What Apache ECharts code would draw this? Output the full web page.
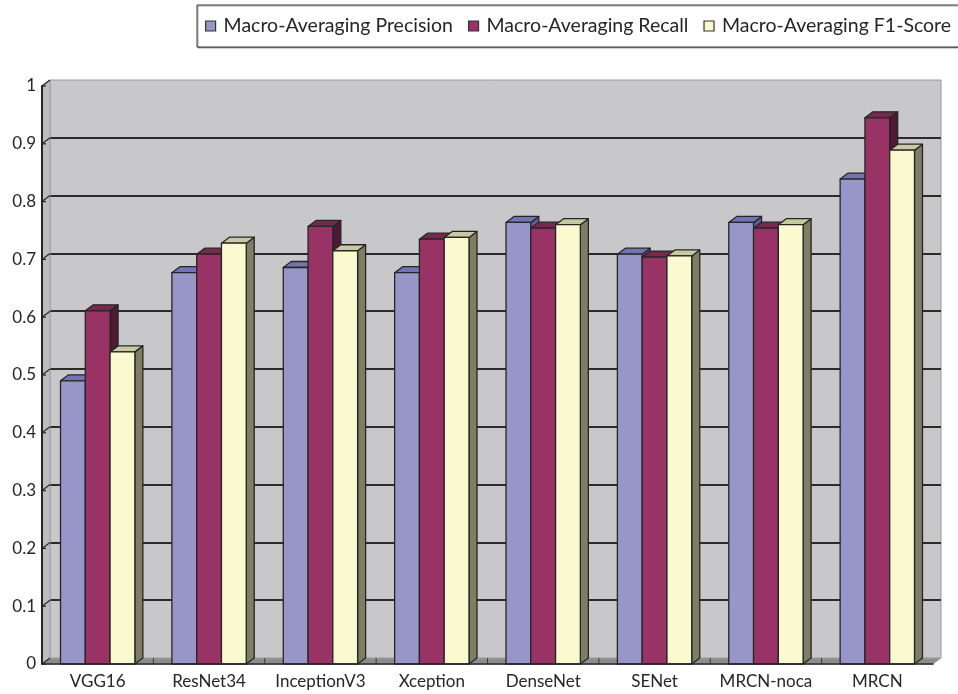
<!DOCTYPE html>
<html>
<head>
<meta charset="utf-8">
<script src="https://cdn.jsdelivr.net/npm/echarts@6/dist/echarts.min.js"></script>
<style>
  html, body { margin: 0; padding: 0; background: #ffffff; }
  #chart { width: 958px; height: 694px; }
</style>
</head>
<body>
<div id="chart"></div>
<script>
// Model names along the x axis
const categories = ['VGG16', 'ResNet34', 'InceptionV3', 'Xception', 'DenseNet', 'SENet', 'MRCN-noca', 'MRCN'];
// Macro-averaged scores per model
const precision = [0.490, 0.677, 0.686, 0.677, 0.764, 0.709, 0.764, 0.839];
const recall    = [0.611, 0.709, 0.757, 0.735, 0.754, 0.704, 0.754, 0.945];
const f1score   = [0.540, 0.728, 0.715, 0.738, 0.760, 0.706, 0.760, 0.889];
// Value axis ticks
const yTicks = [0, 0.1, 0.2, 0.3, 0.4, 0.5, 0.6, 0.7, 0.8, 0.9, 1];
const seriesNames = ['Macro-Averaging Precision', 'Macro-Averaging Recall', 'Macro-Averaging F1-Score'];

// depth of the 3D box (pixels to the right / upward)
const DX = 8, DY = 6;
const FONT = 'Lato, "Open Sans", sans-serif';

const palette = [
  { front: '#9696c9', top: '#7474b4', side: '#5d5d9a' },
  { front: '#993366', top: '#76284f', side: '#4e1933' },
  { front: '#fbf9d0', top: '#c9c8a0', side: '#7e7e64' }
];

function barRenderer(k) {
  const c = palette[k];
  return function (params, api) {
    const i = api.value(0), v = api.value(1);
    const top = api.coord([i, v]);
    const base = api.coord([i, 0]);
    const band = api.size([1, 0])[0];
    const bw = band * 0.2225;
    const x0 = top[0] - 1.5 * bw + k * bw;
    const x1 = x0 + bw;
    const yt = top[1], yb = base[1];
    const stroke = { stroke: '#262626', lineWidth: 1.3, lineJoin: 'round' };
    return {
      type: 'group',
      children: [
        { type: 'polygon', shape: { points: [[x1, yt], [x1 + DX, yt - DY], [x1 + DX, yb - DY], [x1, yb]] },
          style: Object.assign({ fill: c.side }, stroke) },
        { type: 'polygon', shape: { points: [[x0, yt], [x1, yt], [x1 + DX, yt - DY], [x0 + DX, yt - DY]] },
          style: Object.assign({ fill: c.top }, stroke) },
        { type: 'rect', shape: { x: x0, y: yt, width: bw, height: yb - yt },
          style: Object.assign({ fill: c.front }, stroke) }
      ]
    };
  };
}

const chart = echarts.init(document.getElementById('chart'), null, { renderer: 'canvas' });

const option = {
  backgroundColor: '#ffffff',
  animation: false,
  legend: {
    left: 197,
    top: 5,
    width: 1000,
    padding: [11, 40, 11, 8],
    itemWidth: 10,
    itemHeight: 10,
    itemGap: 15,
    borderColor: '#333333',
    borderWidth: 1,
    backgroundColor: '#ffffff',
    shadowColor: 'rgba(0,0,0,0.35)',
    shadowOffsetX: 1,
    shadowOffsetY: 1,
    icon: 'rect',
    textStyle: { fontFamily: FONT, fontSize: 19.5, color: '#262626', padding: [0, 0, 0, 3] },
    data: seriesNames.map((n, k) => ({
      name: n,
      itemStyle: { color: palette[k].front, borderColor: '#333333', borderWidth: 1.2 }
    }))
  },
  grid: [
    // front plane: axis labels and bars
    { left: 42, right: 25, top: 86, bottom: 30 },
    // back wall: grey panel with grid lines
    { left: 42 + DX, right: 25 - DX, top: 86 - DY, bottom: 30 + DY, show: true,
      backgroundColor: '#c8c8ca', borderColor: '#9a9a9a', borderWidth: 1, z: 0 }
  ],
  xAxis: [
    { type: 'category', gridIndex: 0, data: categories, boundaryGap: true,
      axisLine: { show: true, lineStyle: { color: '#262626', width: 1.5 } },
      axisTick: { show: false },
      axisLabel: { fontFamily: FONT, fontSize: 17, color: '#262626', margin: 9, interval: 0 },
      z: 5 },
    { type: 'category', gridIndex: 1, data: categories, show: false }
  ],
  yAxis: [
    { type: 'value', gridIndex: 0, min: 0, max: 1, interval: 0.1,
      axisLine: { show: true, lineStyle: { color: '#262626', width: 2 } },
      axisTick: { show: false },
      splitLine: { show: false },
      axisLabel: { fontFamily: FONT, fontSize: 17, color: '#262626', margin: 6 },
      z: 5 },
    { type: 'value', gridIndex: 1, min: 0, max: 1, interval: 0.1,
      axisLine: { show: false }, axisTick: { show: false }, axisLabel: { show: false },
      splitLine: { show: true, showMaxLine: false, showMinLine: false,
        lineStyle: { color: '#2b2b2b', width: 1.8 } } }
  ],
  series: [
    // side wall and floor of the box
    {
      type: 'custom', xAxisIndex: 0, yAxisIndex: 0, z: 1, silent: true,
      data: [[0, 0]],
      renderItem: function (params, api) {
        const cs = params.coordSys;
        const L = cs.x, R = cs.x + cs.width, T = cs.y, B = cs.y + cs.height;
        const band = api.size([1, 0])[0];
        const children = [
          { type: 'polygon', shape: { points: [[L, T], [L + DX, T - DY], [L + DX, B - DY], [L, B]] },
            style: { fill: '#bdbdbf', stroke: '#a2a2a2', lineWidth: 1 } },
          { type: 'polygon', shape: { points: [[L, B], [L + DX, B - DY], [R + DX, B - DY], [R, B]] },
            style: { fill: '#8c8c8c', stroke: '#a8a8a8', lineWidth: 1 } }
        ];
        for (let j = 1; j < categories.length; j++) {
          const x = L + band * j;
          children.push({ type: 'line', shape: { x1: x, y1: B - DY, x2: x, y2: B },
            style: { stroke: '#3a3a3a', lineWidth: 1 } });
        }
        return { type: 'group', children: children };
      }
    },
    // value-axis ticks running from the axis back to the wall
    {
      type: 'custom', xAxisIndex: 0, yAxisIndex: 0, z: 2, silent: true,
      data: yTicks.map(v => [0, v]),
      renderItem: function (params, api) {
        const cs = params.coordSys;
        const y = api.coord([0, api.value(1)])[1];
        const x = cs.x;
        return { type: 'group', children: [
          { type: 'line', shape: { x1: x, y1: y, x2: x + DX, y2: y - DY }, style: { stroke: '#2b2b2b', lineWidth: 1.3 } },
          { type: 'line', shape: { x1: x, y1: y, x2: x + 4, y2: y }, style: { stroke: '#2b2b2b', lineWidth: 1.3 } }
        ] };
      }
    },
    { name: seriesNames[0], type: 'custom', xAxisIndex: 0, yAxisIndex: 0, z: 3,
      itemStyle: { color: palette[0].front },
      data: precision.map((v, i) => [i, v]), renderItem: barRenderer(0) },
    { name: seriesNames[1], type: 'custom', xAxisIndex: 0, yAxisIndex: 0, z: 3,
      itemStyle: { color: palette[1].front },
      data: recall.map((v, i) => [i, v]), renderItem: barRenderer(1) },
    { name: seriesNames[2], type: 'custom', xAxisIndex: 0, yAxisIndex: 0, z: 3,
      itemStyle: { color: palette[2].front },
      data: f1score.map((v, i) => [i, v]), renderItem: barRenderer(2) }
  ]
};

chart.setOption(option);
</script>
</body>
</html>
